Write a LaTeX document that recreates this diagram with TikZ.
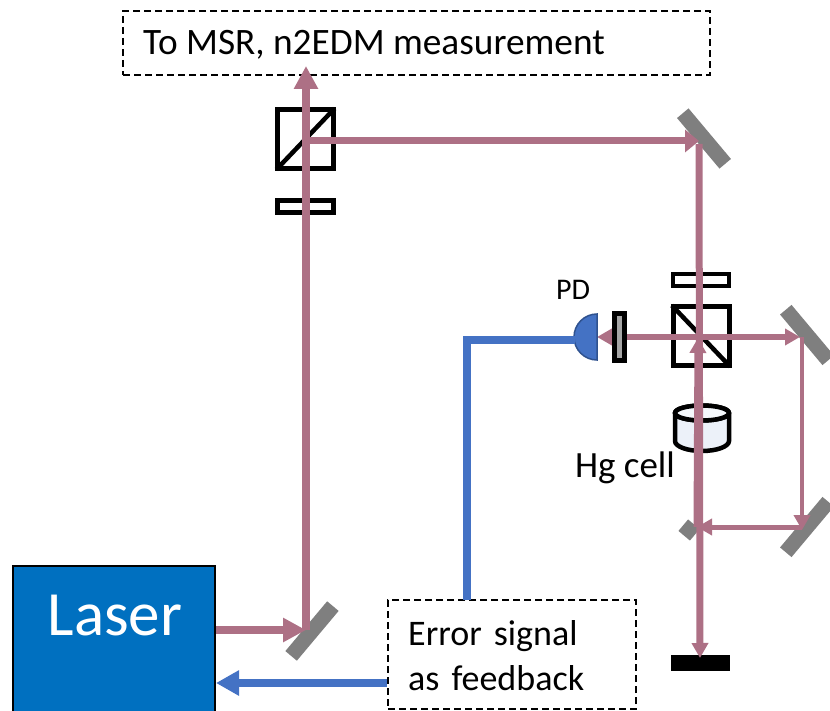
\documentclass[tikz,border=0pt]{standalone}
\usepackage{fontspec}
\setmainfont{Carlito}
\usetikzlibrary{arrows.meta, positioning}
\definecolor{beamrose}{RGB}{173,112,133}
\definecolor{signalblue}{RGB}{68,114,196}
\definecolor{signaledge}{RGB}{47,82,143}
\definecolor{laserblue}{RGB}{0,112,192}
\definecolor{mirrorgray}{RGB}{127,127,127}
\definecolor{cellfill}{RGB}{236,241,249}

\begin{document}
\begin{tikzpicture}[
    x=1pt, y=-1pt,
    mirror/.style={fill=mirrorgray, minimum width=#1, minimum height=15pt, inner sep=0pt},
    cube/.style={draw=black, line width=5pt, fill=white, minimum width=56pt, minimum height=59pt, inner sep=0pt},
    plate/.style={draw=black, line width=4.5pt, fill=white, minimum width=56pt, minimum height=12pt, inner sep=0pt},
    split/.style={draw=black, line width=4.5pt, shorten >=2pt, shorten <=2pt},
    beam/.style={draw=beamrose, line width=#1},
    beamhead/.style={-{Triangle[length=#1, width=22pt]}},
    thinhead/.style={-{Triangle[length=15pt, width=16pt]}},
    signal/.style={draw=signalblue, line width=8pt},
    dashbox/.style={draw=black, line width=2.3pt, dash pattern=on 7pt off 4pt, inner sep=0pt},
    label/.style={font=\fontsize{#1}{#1}\selectfont, inner sep=0pt}
  ]
    \useasboundingbox (0,0) rectangle (830,711);
    \clip (0,0) rectangle (830,711);

    \node[draw=black, line width=2pt, fill=laserblue, minimum width=202pt, minimum height=160pt, inner sep=0pt] (laser) at (114,646) {};
    \node[label=63, text=white] (lasertext) at (115,616) {Laser};
    \node[dashbox, minimum width=587pt, minimum height=64pt] (msr) at (416.5,43) {};
    \node[label=37.3, right] (msrtext) at (143,45) {To MSR, n2EDM measurement};
    \node[dashbox, fill=white, minimum width=248pt, minimum height=109pt] (error) at (512,654.5) {};
    \node[label=36, align=left, right, text width=200pt] (errortext) at (408,656) {Error signal\\[9pt]as feedback};

    \node[mirror=65pt, rotate=50] (mirrorlaser) at (312,631) {};
    \node[mirror=66pt, rotate=-50] (mirrortop) at (704,138.5) {};
    \node[mirror=66pt, rotate=-50] (mirrorupper) at (807,335) {};
    \node[mirror=66pt, rotate=50] (mirrorlower) at (807,527) {};
    \node[mirror=15pt, rotate=50] (mirrorsmall) at (689,530) {};

    \node[cube] (cubeleft) at (305.5,139) {};
    \node[plate] (plateleft) at (305.5,206.5) {};
    \node[cube] (cuberight) at (701,336) {};
    \node[plate] (plateright) at (701,280) {};
    \draw[split] (cubeleft.south west) -- (cubeleft.north east);
    \draw[split] (cuberight.north west) -- (cuberight.south east);

    \node[fill=black, minimum width=59pt, minimum height=16pt, inner sep=0pt] (dump) at (700.5,663) {};

    \coordinate (celltop) at (702,413);
    \draw[black, line width=4.5pt, fill=cellfill] (675,413) -- (675,441) arc[start angle=180, end angle=360, x radius=27, y radius=-10] -- (729,413) arc[start angle=0, end angle=360, x radius=27, y radius=-7.5];
    \draw[black, line width=4.5pt, fill=white!50!cellfill] (celltop) ellipse[x radius=27, y radius=7.5];
    \node[label=37] (celltext) at (625,468) {Hg cell};
    \node[label=30] (pdtext) at (573,290) {PD};

    \coordinate (hitlaser) at (306,630);
    \coordinate (tipup) at (306,66);
    \coordinate (split1) at (305,141);
    \coordinate (hittop) at (699,141);
    \coordinate (hitdump) at (700,658);
    \coordinate (hitsmall) at (697,527);
    \coordinate (hitcube) at (698,338);
    \coordinate (tipfilter) at (597,337);
    \coordinate (centercube) at (700,337);
    \coordinate (hitupper) at (800,337);
    \coordinate (cornerupper) at (802,337);
    \coordinate (hitlower) at (802,530);
    \coordinate (cornerlower) at (802,527);

    \draw[beam=8pt, -{Triangle[length=23pt, width=23pt]}] (laser.east |- hitlaser) -- (hitlaser);
    \draw[beam=8pt, -{Triangle[length=23pt, width=23pt]}] (hitlaser) -- (tipup);
    \draw[beam=7pt, beamhead=14pt] (split1) -- (hittop);
    \draw[beam=7pt, thinhead] ([yshift=-3pt]hittop) -- (hitdump);
    \draw[beam=7pt, thinhead] (hitsmall) -- (hitcube);
    \draw[beam=5pt, thinhead] (centercube) -- (tipfilter);
    \draw[beam=5pt, thinhead] (centercube) -- (hitupper);
    \draw[beam=4.5pt, thinhead] (cornerupper) -- (hitlower);
    \draw[beam=5pt, thinhead] (cornerlower) -- (hitsmall);

    \node[draw=black, line width=4.5pt, fill=mirrorgray!70, minimum width=10pt, minimum height=47pt, inner sep=0pt] (filter) at (619.5,337) {};

    \fill[signalblue, draw=signaledge, line width=1.5pt] (597,314) arc[start angle=90, end angle=270, x radius=23, y radius=-23] -- cycle;
    \coordinate (pdback) at (575,340);
    \coordinate (errorup) at (467,600);
    \draw[signal] (errorup) -- (467,340) -- (pdback);
    \draw[signal, -{Triangle[length=23pt, width=24pt]}] (error.west |- 0,683) -- (laser.east |- 0,683);
  \end{tikzpicture}
\end{document}
